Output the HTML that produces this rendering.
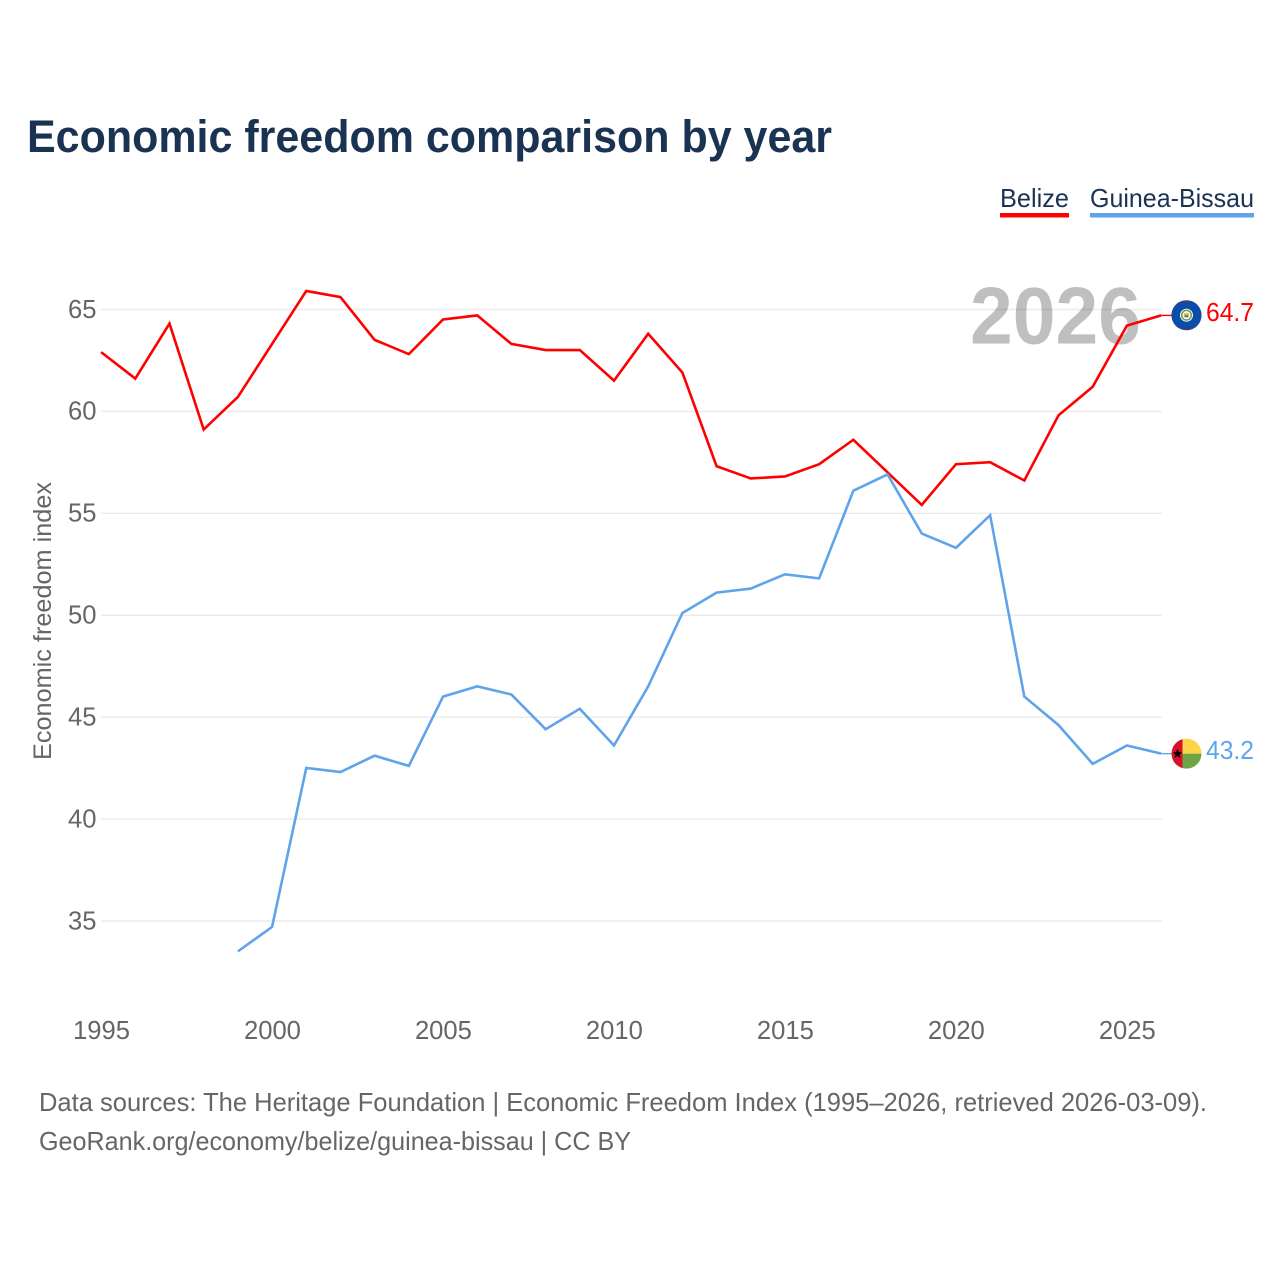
<!DOCTYPE html>
<html lang="en">
<head>
<meta charset="utf-8">
<title>Economic freedom comparison by year</title>
<style>
  html, body { margin: 0; padding: 0; background: #fff; }
  svg { display: block; font-family: "Liberation Sans", sans-serif; }
</style>
</head>
<body>
<svg id="chart" xmlns="http://www.w3.org/2000/svg" width="1280" height="1280" viewBox="0 0 1280 1280">
  <rect width="1280" height="1280" fill="#ffffff"/>
  <text x="27" y="152" font-size="45" font-weight="700" fill="#1a3353" textLength="805" lengthAdjust="spacingAndGlyphs">Economic freedom comparison by year</text>

  <g>
    <g>
      <text x="1000" y="207" font-size="26" fill="#1a3353" textLength="69" lengthAdjust="spacingAndGlyphs">Belize</text>
      <rect x="1000" y="213" width="69" height="4.5" fill="#ff0000"/>
    </g>
    <g>
      <text x="1090" y="207" font-size="26" fill="#1a3353" textLength="164" lengthAdjust="spacingAndGlyphs">Guinea-Bissau</text>
      <rect x="1090" y="213" width="164" height="4.5" fill="#5fa4ea"/>
    </g>
  </g>

  <g id="grid"></g>
  <g id="yticks"></g>
  <g id="xticks"></g>

  <text transform="translate(51,760) rotate(-90)" font-size="25" fill="#666666" textLength="278" lengthAdjust="spacingAndGlyphs">Economic freedom index</text>
  <text x="970" y="343.5" font-size="81" font-weight="700" fill="#000000" fill-opacity="0.25" textLength="171" lengthAdjust="spacingAndGlyphs">2026</text>

  <g id="series"></g>
  <g id="ends"></g>

  <text x="39" y="1111" font-size="26" fill="#666666" textLength="1168" lengthAdjust="spacingAndGlyphs">Data sources: The Heritage Foundation | Economic Freedom Index (1995–2026, retrieved 2026-03-09).</text>
  <text x="39" y="1150" font-size="26" fill="#666666" textLength="592" lengthAdjust="spacingAndGlyphs">GeoRank.org/economy/belize/guinea-bissau | CC BY</text>
</svg>

<script>
const belizeYears = [1995,1996,1997,1998,1999,2000,2001,2002,2003,2004,2005,2006,2007,2008,2009,2010,2011,2012,2013,2014,2015,2016,2017,2018,2019,2020,2021,2022,2023,2024,2025,2026];
const belizeValues = [62.9,61.6,64.3,59.1,60.7,63.3,65.9,65.6,63.5,62.8,64.5,64.7,63.3,63.0,63.0,61.5,63.8,61.9,57.3,56.7,56.8,57.4,58.6,57.0,55.4,57.4,57.5,56.6,59.8,61.2,64.2,64.7];
const guineaYears = [1999,2000,2001,2002,2003,2004,2005,2006,2007,2008,2009,2010,2011,2012,2013,2014,2015,2016,2017,2018,2019,2020,2021,2022,2023,2024,2025,2026];
const guineaValues = [33.5,34.7,42.5,42.3,43.1,42.6,46.0,46.5,46.1,44.4,45.4,43.6,46.5,50.1,51.1,51.3,52.0,51.8,56.1,56.9,54.0,53.3,54.9,46.0,44.6,42.7,43.6,43.2];
const yTickValues = [35,40,45,50,55,60,65];
const xTickValues = [1995,2000,2005,2010,2015,2020,2025];

const NS = 'http://www.w3.org/2000/svg';
const RED = '#ff0000';
const BLUE = '#5fa4ea';

function xScale(year) { return 101.1 + (year - 1995) * (1060 / 31); }
function yScale(value) { return 309.3 + (65 - value) * (611.5 / 30); }

function make(tag, parent, props) {
  const el = document.createElementNS(NS, tag);
  for (const k in props) el.setAttribute(k, props[k]);
  parent.appendChild(el);
  return el;
}

const gridGroup = document.getElementById('grid');
const yGroup = document.getElementById('yticks');
const xGroup = document.getElementById('xticks');
const seriesGroup = document.getElementById('series');
const endsGroup = document.getElementById('ends');

yTickValues.forEach(function (v) {
  const line = make('line', gridGroup, { x1: 101, x2: 1162, y1: yScale(v) + 0.2, y2: yScale(v) + 0.2, stroke: '#ebebeb', 'stroke-width': 1.4 });
  
  
  const label = make('text', yGroup, { x: 96.5, y: yScale(v) + 8.5, 'text-anchor': 'end', 'font-size': 25.6, fill: '#666666' });
  
  
  label.textContent = String(v);
});

xTickValues.forEach(function (y) {
  const label = make('text', xGroup, { x: xScale(y) + 0.4, y: 1039, 'text-anchor': 'middle', 'font-size': 25.6, fill: '#666666' });
  
  
  label.textContent = String(y);
});

function points(years, values) {
  return years.map(function (y, i) { return xScale(y).toFixed(2) + ',' + yScale(values[i]).toFixed(2); }).join(' ');
}

const belizeLine = make('polyline', seriesGroup, { points: points(belizeYears, belizeValues), fill: 'none', stroke: RED, 'stroke-width': 2.6, 'stroke-linejoin': 'miter' });



const guineaLine = make('polyline', seriesGroup, { points: points(guineaYears, guineaValues), fill: 'none', stroke: BLUE, 'stroke-width': 2.6, 'stroke-linejoin': 'miter' });



const belizeLast = belizeValues[belizeValues.length - 1];
const guineaLast = guineaValues[guineaValues.length - 1];
const endX = xScale(2026);
const flagX = 1186.5;

const belizeStub = make('line', endsGroup, { x1: endX, x2: flagX - 15, y1: yScale(belizeLast), y2: yScale(belizeLast), stroke: RED, 'stroke-width': 1.4 });



const guineaStub = make('line', endsGroup, { x1: endX, x2: flagX - 15, y1: yScale(guineaLast), y2: yScale(guineaLast), stroke: BLUE, 'stroke-width': 1.4 });



// Belize flag
const belizeFlag = make('g', endsGroup, { transform: 'translate(' + flagX + ',' + (yScale(belizeLast) - 0.2) + ')' });


make('circle', belizeFlag, { r: 15, fill: '#b3131b' });
const belizeClip = make('clipPath', belizeFlag, { id: 'bz-clip' });
make('circle', belizeClip, { r: 15 });
make('rect', belizeFlag, { x: -15, y: -14, width: 30, height: 28, fill: '#0a4ea8', 'clip-path': 'url(#bz-clip)' });
make('circle', belizeFlag, { r: 6.5, fill: '#ffffff' });
make('circle', belizeFlag, { r: 4.8, fill: 'none', stroke: '#6f9a45', 'stroke-width': 1.5 });
make('circle', belizeFlag, { r: 3, fill: '#f2ecd0' });
make('rect', belizeFlag, { x: -2.5, y: -2, width: 5, height: 2, fill: '#e9b93a' });
make('rect', belizeFlag, { x: -2, y: 0, width: 4, height: 2, fill: '#4a6fa8' });

// Guinea-Bissau flag
const guineaFlag = make('g', endsGroup, { transform: 'translate(' + flagX + ',' + yScale(guineaLast) + ')' });


const gwClip = make('clipPath', guineaFlag, { id: 'gw-clip' });
make('circle', gwClip, { r: 15 });
const gwInner = make('g', guineaFlag, { 'clip-path': 'url(#gw-clip)' });
make('rect', gwInner, { x: -15, y: -15, width: 11, height: 30, fill: '#d7102b' });
make('rect', gwInner, { x: -4, y: -15, width: 19, height: 15, fill: '#fdd447' });
make('rect', gwInner, { x: -4, y: 0, width: 19, height: 15, fill: '#6fa544' });
make('polygon', gwInner, { points: '-9,-4.8 -7.7,-1.4 -4.2,-1.4 -7,0.8 -6,4.4 -9,2.3 -12,4.4 -11,0.8 -13.8,-1.4 -10.3,-1.4', fill: '#000000' });

const belizeValueLabel = make('text', endsGroup, { x: 1206, y: yScale(belizeLast) + 5.5, 'font-size': 25.6, fill: RED, textLength: 48, lengthAdjust: 'spacingAndGlyphs' });


belizeValueLabel.textContent = belizeLast.toFixed(1);

const guineaValueLabel = make('text', endsGroup, { x: 1206, y: yScale(guineaLast) + 5.5, 'font-size': 25.6, fill: BLUE, textLength: 48, lengthAdjust: 'spacingAndGlyphs' });


guineaValueLabel.textContent = guineaLast.toFixed(1);
</script>
</body>
</html>
